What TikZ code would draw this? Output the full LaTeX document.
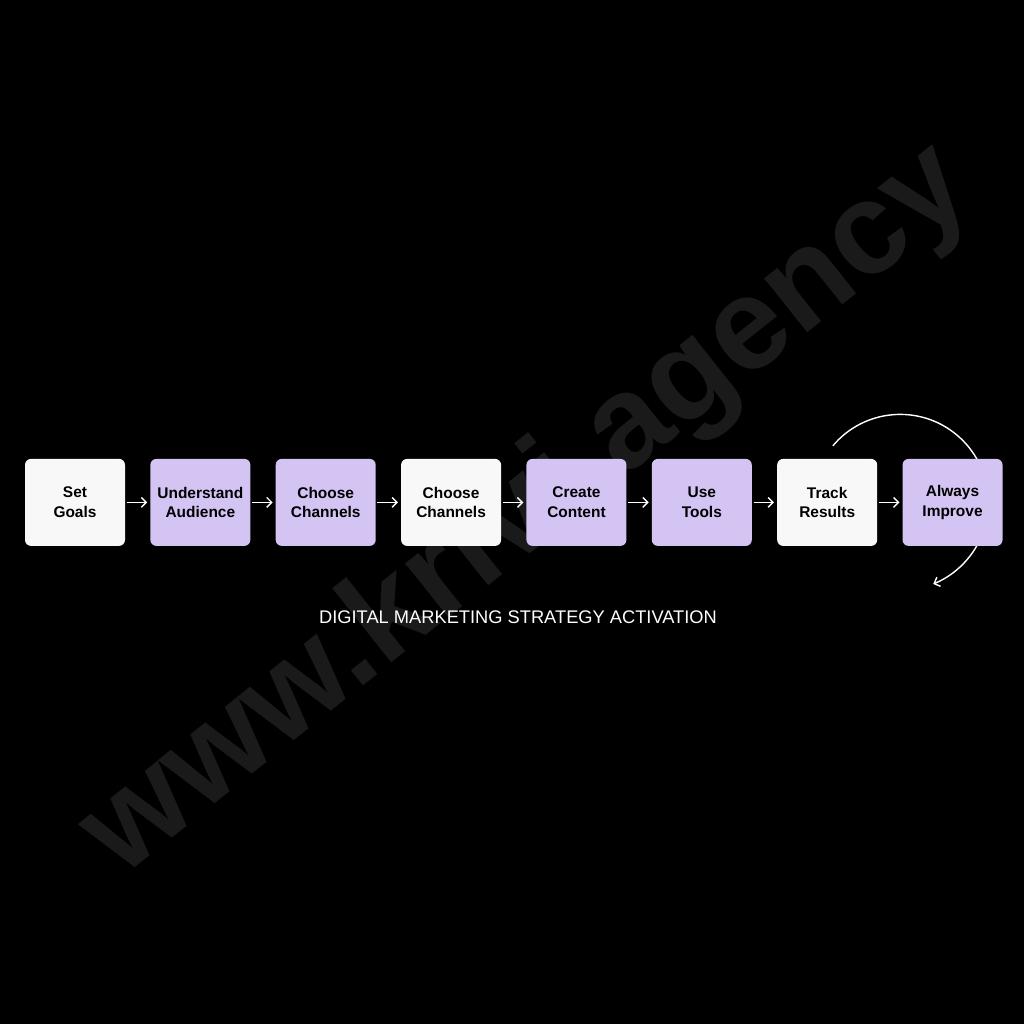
\documentclass[tikz,border=0pt]{standalone}
\usepackage{fontspec}
\setmainfont{Liberation Sans}
\usetikzlibrary{arrows.meta, positioning}
\definecolor{lavender}{HTML}{D4C4F4}
\definecolor{paper}{HTML}{F8F8F8}
\definecolor{ghost}{HTML}{1A1A1A}
\pgfdeclarelayer{behind}
\pgfsetlayers{behind,main}
\tikzstyle{stage} = [
    rectangle, 
    rounded corners=0.15cm, 
    minimum width=2.5cm, 
    minimum height=2.175cm,
    align=center, 
    fill=paper,
    text=black,
    font=\bfseries\fontsize{11}{14}\selectfont
]
\tikzstyle{stagehl} = [
    stage, 
    fill=lavender
]
\tikzstyle{arrow} = [draw=white, line width=1pt, -{Straight Barb[length=3.5pt, width=7pt]}]

\begin{document}
\begin{tikzpicture}[node distance=0.62cm]

\useasboundingbox (0,0) rectangle (25.6,25.6);

\node (goals) [stage] at (1.875,13.04) {Set\\Goals};
\node (audience) [stagehl, right=of goals] {Understand\\Audience};
\node (channels) [stagehl, right=of audience] {Choose\\Channels};
\node (channels2) [stage, right=of channels] {Choose\\Channels};
\node (content) [stagehl, right=of channels2] {Create\\Content};
\node (tools) [stagehl, right=of content] {Use\\Tools};
\node (results) [stage, right=of tools] {Track\\Results};
\node (improve) [stagehl, right=of results] {Always\\Improve};

\node (title) [text=white, font=\fontsize{13}{15}\selectfont] at (12.95,10.175) {DIGITAL MARKETING STRATEGY ACTIVATION};

\draw[arrow, shorten <=1pt, shorten >=2pt] (goals) -- (audience);
\draw[arrow, shorten <=1pt, shorten >=2pt] (audience) -- (channels);
\draw[arrow, shorten <=1pt, shorten >=2pt] (channels) -- (channels2);
\draw[arrow, shorten <=1pt, shorten >=2pt] (channels2) -- (content);
\draw[arrow, shorten <=1pt, shorten >=2pt] (content) -- (tools);
\draw[arrow, shorten <=1pt, shorten >=2pt] (tools) -- (results);
\draw[arrow, shorten <=1pt, shorten >=2pt] (results) -- (improve);

% loop back, partly hidden behind the last box
\coordinate (pivot) at ([xshift=-0.05cm]improve.west);
\begin{pgfonlayer}{behind}
\fill[black] (0,0) rectangle (25.6,25.6);
\node (mark) [rotate=38.5, text=ghost, font=\bfseries\fontsize{93}{93}\selectfont] at (13.2,12.8) {www.krivi.agency};
\draw[arrow] ([shift={(140:2.2)}]pivot) arc[start angle=140, end angle=-68, radius=2.2];
\end{pgfonlayer}

\end{tikzpicture}
\end{document}
